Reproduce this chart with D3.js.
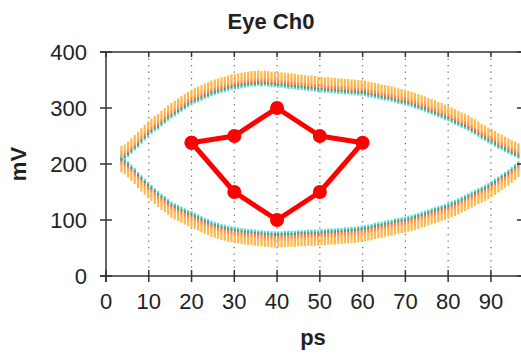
<!DOCTYPE html>
<html>
    <head>
        <title>Eye Ch0</title>
        <script src="https://d3js.org/d3.v7.min.js"></script>
        <style>
            body { margin: 0; background: #fff; }
            text { font-family: "Liberation Sans", Arial, sans-serif; fill: #222; }
        </style>
    </head>
    <body>
        <script type="text/javascript">
            // eye samples: time grid (ps) and inner edges of the two bands (mV)
            const tStart = 3.6;
            const tStep = 0.78;
            const upperEdge = [204,207,212,218,224,229,236,242,248,253,258,261,267,272,277,281,285,289,293,297,
                301,305,308,310,313,316,318,321,323,325,327,328,330,332,333,334,335,336,337,338,
                338,339,338,339,338,337,337,336,336,335,334,334,333,332,332,331,330,330,329,328,
                328,327,327,326,326,325,325,324,324,323,323,322,322,321,319,318,317,316,314,313,
                312,311,309,307,306,305,303,301,299,297,295,293,290,288,286,283,281,278,276,273,
                270,267,264,262,259,255,252,248,244,241,237,235,231,227,225,221,218,215,212,209];
            const lowerEdge = [214,210,205,199,193,186,180,174,168,163,157,152,147,143,138,133,130,127,124,121,
                118,116,113,110,107,104,102,99,97,95,93,92,90,89,88,87,86,85,84,84,
                83,82,82,81,81,80,80,80,80,81,81,81,81,82,82,82,83,83,83,83,
                84,84,85,85,85,86,86,87,87,88,88,89,90,91,92,93,95,96,97,99,
                100,101,103,104,105,106,108,109,111,113,115,117,119,121,123,125,127,129,131,134,
                136,139,142,145,148,151,154,157,160,163,166,170,174,178,182,186,190,195,200,205];
            const upperSpread = 28;
            const lowerSpread = 29;

            // mask points
            const maskX = [20, 30, 40, 50, 60, 50, 40, 30, 20];
            const maskY = [238, 250, 300, 250, 238, 150, 100, 150, 238];

            const xTicks = [0, 10, 20, 30, 40, 50, 60, 70, 80, 90];
            const yTicks = [0, 100, 200, 300, 400];

            const width = 521;
            const height = 356;

            const svg = d3.select('body').append('svg').attr('width', width).attr('height', height);

            const x = d3.scaleLinear([0, 97.5], [106, 523]);
            const y = d3.scaleLinear([0, 400], [276, 52]);

            const defs = svg.append('defs');
            const stops = [
                [0, '#ffbb44'], [0.45, '#ffae3c'], [0.55, '#ff8c46'], [0.72, '#f56a4a'],
                [0.76, '#3f9a3f'], [0.86, '#44a85a'], [0.88, '#45c4ec'], [1, '#70d8f6']
            ];
            const gUp = defs.append('linearGradient').attr('id', 'gUp')
                .attr('x1', 0).attr('y1', 0).attr('x2', 0).attr('y2', 1);
            gUp.selectAll('stop').data(stops).join('stop')
                .attr('offset', d => d[0]).attr('stop-color', d => d[1]);
            const gDown = defs.append('linearGradient').attr('id', 'gDown')
                .attr('x1', 0).attr('y1', 1).attr('x2', 0).attr('y2', 0);
            gDown.selectAll('stop').data(stops).join('stop')
                .attr('offset', d => d[0]).attr('stop-color', d => d[1]);

            // grid
            svg.append('g').selectAll('line').data(xTicks.filter(d => d > 0)).join('line')
                .attr('x1', d => x(d)).attr('x2', d => x(d))
                .attr('y1', y(400)).attr('y2', y(0))
                .attr('stroke', '#666').attr('stroke-width', 1.2)
                .attr('stroke-dasharray', '1.3,5.2');

            // eye bands
            const times = upperEdge.map((d, i) => tStart + i * tStep);
            const eye = svg.append('g').attr('opacity', 0.95);
            eye.selectAll('rect.up').data(upperEdge).join('rect').attr('class', 'up')
                .attr('x', (d, i) => x(times[i]) - 1.1)
                .attr('width', 2.2)
                .attr('y', d => y(d + upperSpread))
                .attr('height', d => y(d) - y(d + upperSpread))
                .attr('fill', 'url(#gUp)');
            eye.selectAll('rect.down').data(lowerEdge).join('rect').attr('class', 'down')
                .attr('x', (d, i) => x(times[i]) - 1.1)
                .attr('width', 2.2)
                .attr('y', d => y(d))
                .attr('height', d => y(d - lowerSpread) - y(d))
                .attr('fill', 'url(#gDown)');

            // mask
            const mask = maskX.map((d, i) => [d, maskY[i]]);
            svg.append('path')
                .attr('d', d3.line().x(d => x(d[0])).y(d => y(d[1]))(mask))
                .attr('fill', 'none').attr('stroke', '#ff0000')
                .attr('stroke-width', 5).attr('stroke-linejoin', 'round');
            svg.append('g').selectAll('circle').data(mask).join('circle')
                .attr('cx', d => x(d[0])).attr('cy', d => y(d[1])).attr('r', 7)
                .attr('fill', '#ff0000');

            // frame
            const frame = svg.append('g').attr('stroke', '#333').attr('stroke-width', 1.5);
            frame.append('line').attr('x1', 100).attr('x2', width).attr('y1', y(400)).attr('y2', y(400));
            frame.append('line').attr('x1', 100).attr('x2', width).attr('y1', y(0)).attr('y2', y(0));
            frame.append('line').attr('x1', x(0)).attr('x2', x(0)).attr('y1', y(400)).attr('y2', y(0) + 6);
            frame.append('line').attr('x1', x(97.5)).attr('x2', x(97.5)).attr('y1', y(400)).attr('y2', y(0));

            // ticks
            frame.selectAll('line.yt').data(yTicks).join('line').attr('class', 'yt')
                .attr('x1', x(0) - 6).attr('x2', x(0) + 6)
                .attr('y1', d => y(d)).attr('y2', d => y(d));
            frame.selectAll('line.yr').data(yTicks).join('line').attr('class', 'yr')
                .attr('x1', x(97.5) - 6).attr('x2', x(97.5))
                .attr('y1', d => y(d)).attr('y2', d => y(d));
            frame.selectAll('line.xt').data(xTicks).join('line').attr('class', 'xt')
                .attr('x1', d => x(d)).attr('x2', d => x(d))
                .attr('y1', y(0) - 6).attr('y2', y(0) + 6);
            frame.selectAll('line.xtop').data(xTicks).join('line').attr('class', 'xtop')
                .attr('x1', d => x(d)).attr('x2', d => x(d))
                .attr('y1', y(400)).attr('y2', y(400) + 5);

            // labels
            svg.append('g').selectAll('text').data(yTicks).join('text')
                .attr('x', 87).attr('y', d => y(d)).attr('dy', '0.35em')
                .attr('text-anchor', 'end').attr('font-size', 22)
                .text(d => d);
            svg.append('g').selectAll('text').data(xTicks).join('text')
                .attr('x', d => x(d)).attr('y', 309)
                .attr('text-anchor', 'middle').attr('font-size', 22)
                .text(d => d);

            svg.append('text').attr('x', 271).attr('y', 29)
                .attr('text-anchor', 'middle').attr('font-size', 22).attr('font-weight', 'bold')
                .text('Eye Ch0');
            svg.append('text').attr('x', 313).attr('y', 345)
                .attr('text-anchor', 'middle').attr('font-size', 22).attr('font-weight', 'bold')
                .text('ps');
            svg.append('text').attr('transform', 'translate(26,164) rotate(-90)')
                .attr('text-anchor', 'middle').attr('font-size', 22).attr('font-weight', 'bold')
                .text('mV');
        </script>
    </body>
</html>
